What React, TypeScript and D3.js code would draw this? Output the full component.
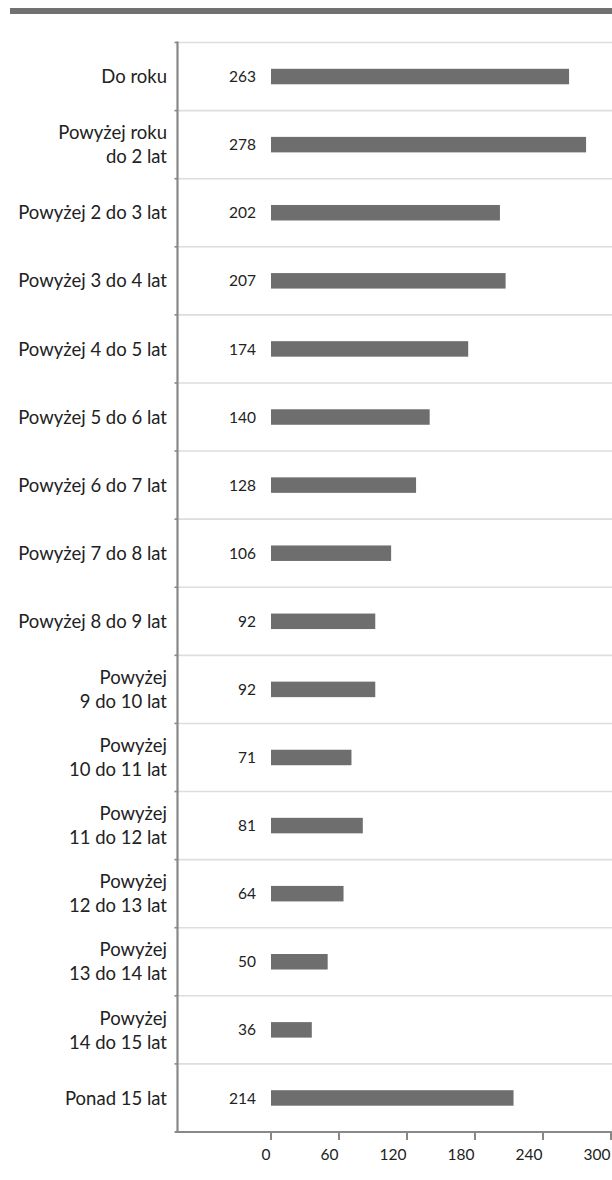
import React from "react";
import * as d3 from "d3";

const categories: string[] = [
  "Do roku",
  "Powyżej roku\ndo 2 lat",
  "Powyżej 2 do 3 lat",
  "Powyżej 3 do 4 lat",
  "Powyżej 4 do 5 lat",
  "Powyżej 5 do 6 lat",
  "Powyżej 6 do 7 lat",
  "Powyżej 7 do 8 lat",
  "Powyżej 8 do 9 lat",
  "Powyżej\n9 do 10 lat",
  "Powyżej\n10 do 11 lat",
  "Powyżej\n11 do 12 lat",
  "Powyżej\n12 do 13 lat",
  "Powyżej\n13 do 14 lat",
  "Powyżej\n14 do 15 lat",
  "Ponad 15 lat",
];
const values: number[] = [263, 278, 202, 207, 174, 140, 128, 106, 92, 92, 71, 81, 64, 50, 36, 214];
const xTicks: number[] = [0, 60, 120, 180, 240, 300];

const W = 612;
const H = 1180;
const FONT = "Lato, 'DejaVu Sans', sans-serif";

export default function App() {
  const axisX = 177.5;
  const top = 42.5;
  const bottom = 1132;
  const x = d3.scaleLinear().domain([0, 300]).range([271, 611]);
  const y = d3
    .scaleBand<number>()
    .domain(d3.range(categories.length))
    .range([top, bottom])
    .paddingInner(0)
    .paddingOuter(0);
  const barH = 15.5;
  const lineH = 24;

  return (
    <svg
      width={W}
      height={H}
      style={{ position: "absolute", left: 0, top: 0, background: "#fff" }}
      fontFamily={FONT}
    >
      <rect x={10} y={8} width={W - 10} height={6} fill="#717171" />
      {/* grid lines */}
      {d3.range(categories.length).map((i) => (
        <line
          key={"g" + i}
          x1={axisX}
          x2={W}
          y1={y(i)!}
          y2={y(i)!}
          stroke="#dddddd"
          strokeWidth={1.6}
        />
      ))}
      {/* y ticks */}
      {d3.range(categories.length + 1).map((i) => {
        const yy = top + i * y.step();
        return (
          <line key={"yt" + i} x1={174.5} x2={axisX} y1={yy} y2={yy} stroke="#888" strokeWidth={1.6} />
        );
      })}
      {/* bars */}
      {values.map((v, i) => {
        const cy = y(i)! + y.bandwidth() / 2;
        return (
          <g key={"b" + i}>
            <rect x={x(0)} y={cy - barH / 2} width={x(v) - x(0)} height={barH} fill="#6e6e6e" />
            <text x={256} y={cy} dy="0.36em" textAnchor="end" fontSize={15.5} fill="#222">
              {v}
            </text>
          </g>
        );
      })}
      {/* category labels */}
      {categories.map((c, i) => {
        const cy = y(i)! + y.bandwidth() / 2;
        const lines = c.split("\n");
        const start = cy - ((lines.length - 1) * lineH) / 2;
        return (
          <text key={"c" + i} textAnchor="end" fontSize={18.5} fill="#222">
            {lines.map((l, k) => (
              <tspan key={k} x={167} y={start + k * lineH} dy="0.36em">
                {l}
              </tspan>
            ))}
          </text>
        );
      })}
      {/* y axis */}
      <line x1={axisX} x2={axisX} y1={top - 1} y2={bottom} stroke="#888" strokeWidth={2.2} />
      {/* x axis */}
      <line x1={175} x2={W} y1={bottom} y2={bottom} stroke="#888" strokeWidth={2.2} />
      {xTicks.map((t) => (
        <g key={"xt" + t}>
          <line x1={x(t)} x2={x(t)} y1={bottom} y2={bottom + 8} stroke="#888" strokeWidth={2} />
          <text x={x(t) - 0.5} y={1160} textAnchor="end" fontSize={15.5} fill="#222">
            {t}
          </text>
        </g>
      ))}
    </svg>
  );
}
